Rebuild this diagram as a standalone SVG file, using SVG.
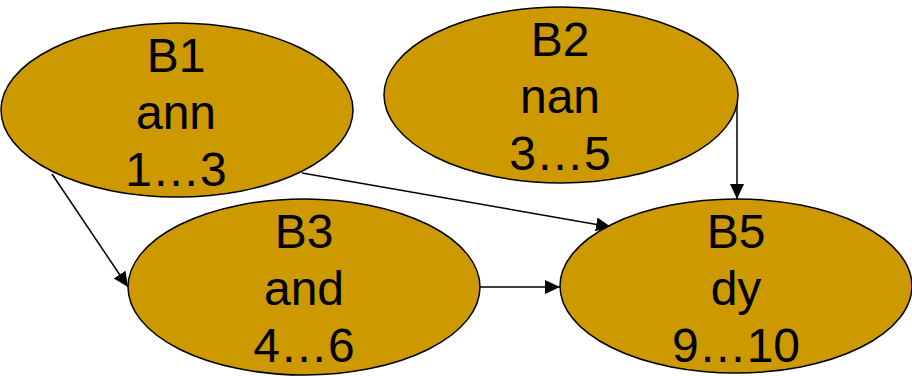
<svg xmlns="http://www.w3.org/2000/svg" width="912" height="376" viewBox="0 0 912 376">
  <style>
    .node ellipse { fill: #CC9900; stroke: #000; stroke-width: 1.5; }
    .node text { font-family: "Liberation Sans", Arial, sans-serif; font-size: 48px; fill: #000; text-anchor: middle; }
    .edge { stroke: #000; stroke-width: 1.5; fill: none; marker-end: url(#arrow); }
  </style>
  <defs>
    <marker id="arrow" markerUnits="userSpaceOnUse" markerWidth="16" markerHeight="16" refX="15" refY="7" orient="auto">
      <path d="M0,0 L15,7 L0,14 Z" fill="#000"/>
    </marker>
  </defs>
  <rect width="912" height="376" fill="#fff"/>

  <g id="edges">
    <line class="edge" x1="52" y1="174" x2="128" y2="287"/>
    <line class="edge" x1="302" y1="173" x2="611" y2="227"/>
    <line class="edge" x1="737" y1="96" x2="737" y2="199"/>
    <line class="edge" x1="480" y1="287" x2="560" y2="287"/>
  </g>

  <g id="B1" class="node">
    <ellipse cx="177" cy="110" rx="176" ry="87"/>
    <text x="176" y="72">B1</text>
    <text x="176" y="129">ann</text>
    <text x="176" y="186">1…3</text>
  </g>

  <g id="B2" class="node">
    <ellipse cx="561" cy="95" rx="177" ry="88"/>
    <text x="560" y="56">B2</text>
    <text x="560" y="113">nan</text>
    <text x="560" y="170">3…5</text>
  </g>

  <g id="B3" class="node">
    <ellipse cx="304" cy="287" rx="176" ry="88"/>
    <text x="304" y="248">B3</text>
    <text x="304" y="305">and</text>
    <text x="304" y="362">4…6</text>
  </g>

  <g id="B5" class="node">
    <ellipse cx="736" cy="286" rx="176" ry="87"/>
    <text x="736" y="248">B5</text>
    <text x="736" y="305">dy</text>
    <text x="736" y="362">9…10</text>
  </g>
</svg>
